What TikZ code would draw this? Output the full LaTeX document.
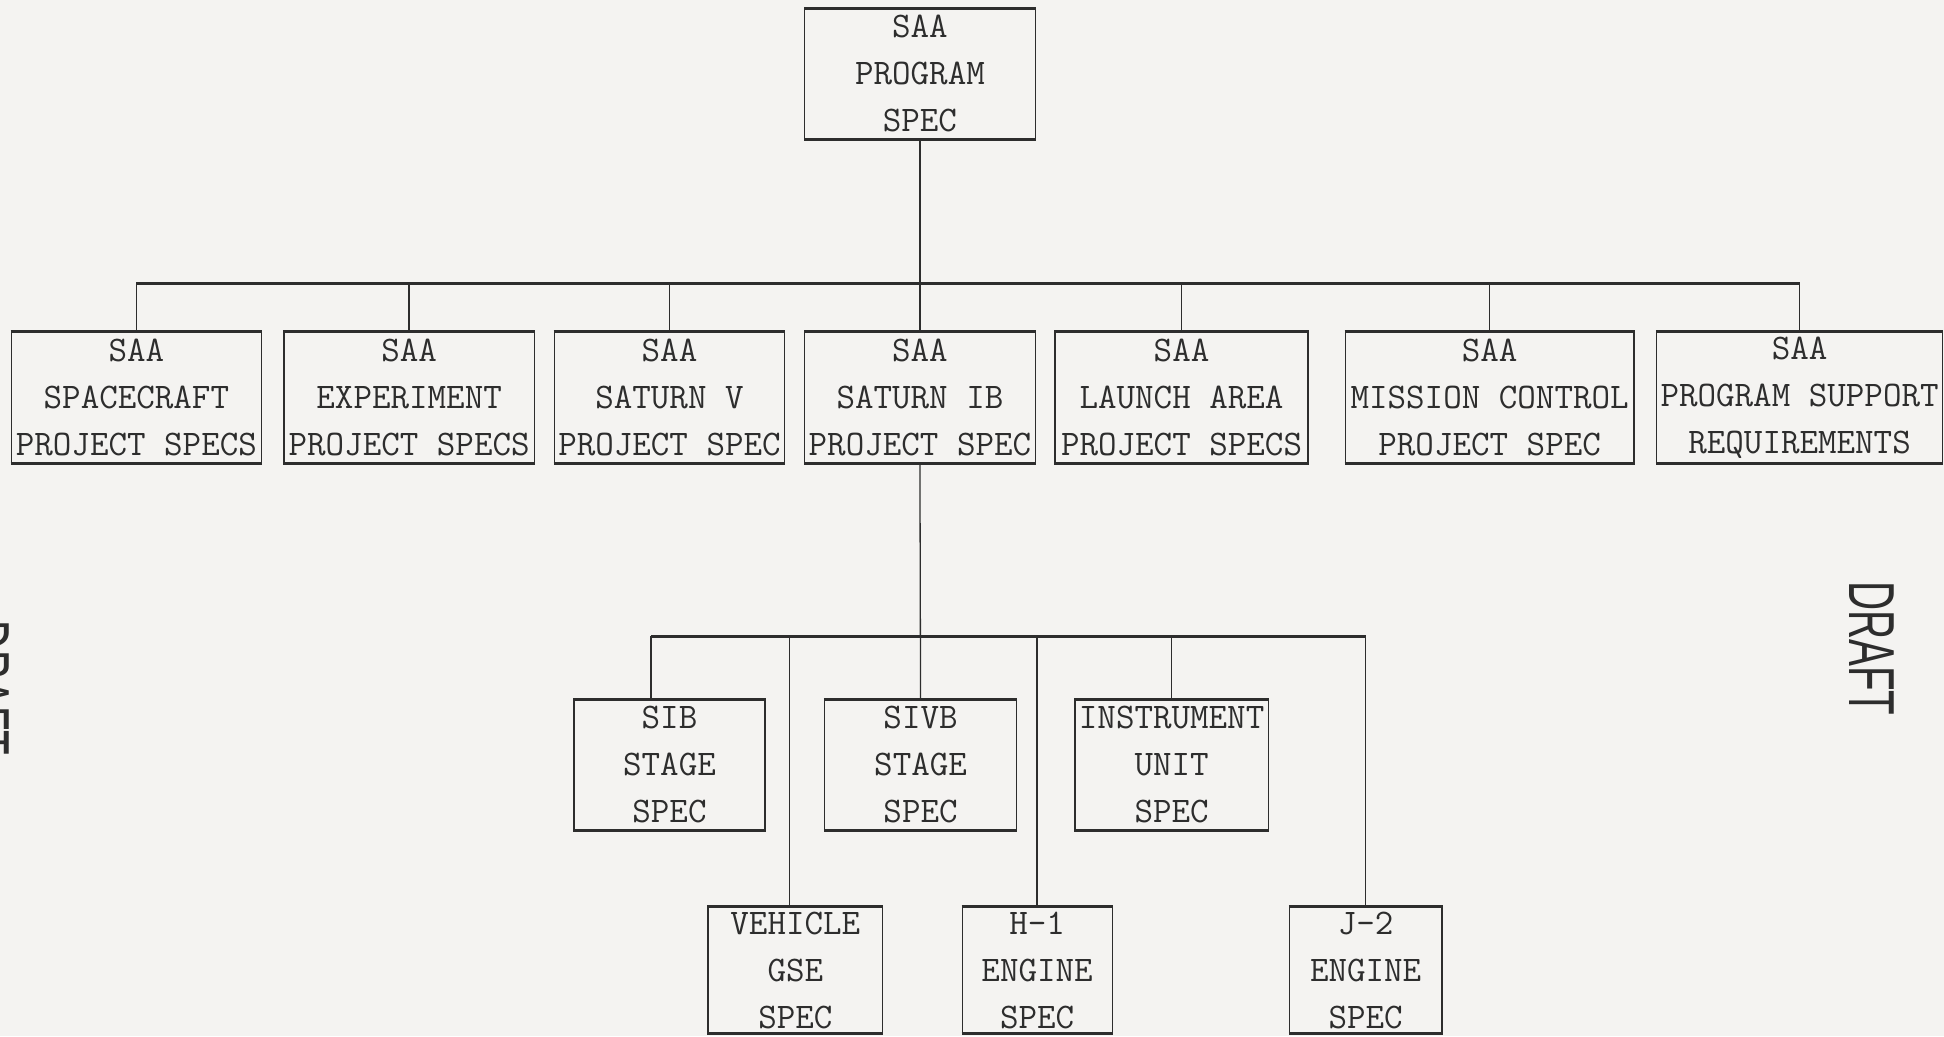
\documentclass[tikz,border=0pt]{standalone}
\usepackage{fontspec}
\newfontfamily\draftfont{Liberation Sans}
\definecolor{paper}{RGB}{244,243,241}
\definecolor{ink}{RGB}{45,45,45}
\begin{document}
\begin{tikzpicture}[x=1.2398pt,y=-1.2398pt,
  box/.style={draw=ink, line width=1.2pt, inner sep=0pt, align=center, text=ink,
    font=\ttfamily\fontsize{36}{47}\selectfont},
  rowtwo/.style={box, minimum height=130.2pt},
  rowthree/.style={box, minimum height=128.9pt},
  rowfour/.style={box, minimum height=125.2pt},
  conn/.style={draw=ink, line width=1.3pt},
  barline/.style={draw=ink, line width=3pt},
  edge/.style={draw=ink, line width=3pt},
  drafttext/.style={rotate=-90, text=ink, inner sep=0pt}]
\fill[paper] (0,0) rectangle (1568,836);
\path[use as bounding box] (0,0) rectangle (1568,836);
\clip (0,0) rectangle (1568,836);

% level 0
\node[rowtwo, minimum width=230.6pt] (top) at (742,59.5) {SAA\\PROGRAM\\SPEC};

% level 1
\node[rowtwo, minimum width=250.4pt] (b1) at (110,320.5) {SAA\\SPACECRAFT\\PROJECT SPECS};
\node[rowtwo, minimum width=250.4pt] (b2) at (330,320.5) {SAA\\EXPERIMENT\\PROJECT SPECS};
\node[rowtwo, minimum width=230.6pt] (b3) at (540,320.5) {SAA\\SATURN V\\PROJECT SPEC};
\node[rowtwo, minimum width=230.6pt] (b4) at (742,320.5) {SAA\\SATURN IB\\PROJECT SPEC};
\node[rowtwo, minimum width=252.9pt] (b5) at (953,320.5) {SAA\\LAUNCH AREA\\PROJECT SPECS};
\node[rowtwo, minimum width=288.9pt] (b6) at (1201.5,320.5) {SAA\\MISSION CONTROL\\PROJECT SPEC};
\node[rowtwo, minimum width=286.4pt] (b7) at (1451.5,320.5) {SAA\\PROGRAM SUPPORT\\REQUIREMENTS};

% level 2
\node[rowthree, minimum width=190.9pt] (s1) at (540,617) {SIB\\STAGE\\SPEC};
\node[rowthree, minimum width=192.2pt] (s2) at (742.5,617) {SIVB\\STAGE\\SPEC};
\node[rowthree, minimum width=193.4pt] (s3) at (945,617) {INSTRUMENT\\UNIT\\SPEC};

% level 3
\node[rowfour, minimum width=174.8pt] (v1) at (641.5,782.5) {VEHICLE\\GSE\\SPEC};
\node[rowfour, minimum width=150.0pt] (v2) at (836.5,782.5) {H-1\\ENGINE\\SPEC};
\node[rowfour, minimum width=152.5pt] (v3) at (1101.5,782.5) {J-2\\ENGINE\\SPEC};

% thick typed top and bottom edges
\foreach \n in {top,b1,b2,b3,b4,b5,b6,b7,s1,s2,s3,v1,v2,v3}{
  \draw[edge] (\n.north west) -- (\n.north east);
  \draw[edge] (\n.south west) -- (\n.south east);
}

% first level connectors
\coordinate (lvl1) at (0,229);
\draw[barline] (b1.north |- lvl1) -- (b7.north |- lvl1);
\draw[conn] (top.south) -- (b4.north);
\foreach \n in {b1,b2,b3,b5,b6,b7}{
  \draw[conn] (\n.north |- lvl1) -- (\n.north);
}

% second level connectors
\coordinate (j1) at (525,513);
\coordinate (j2) at (637,513);
\draw[barline] (j1) -- (v3.north |- j1);
\draw[conn] (b4.south) -- (s2.north);
\draw[conn] (j1) -- (j1 |- s1.north);
\draw[conn] (j2) -- (j2 |- v1.north);
\draw[conn] (v2.north |- j1) -- (v2.north);
\draw[conn] (s3.north |- j1) -- (s3.north);
\draw[conn] (v3.north |- j1) -- (v3.north);

% DRAFT stamps
\node[drafttext] (draft1) at (1510,523) {\scalebox{0.62}[1]{\draftfont\fontsize{65}{65}\selectfont DRAFT}};
\node[drafttext] (draft2) at (-11,555) {\scalebox{0.62}[1]{\draftfont\fontsize{65}{65}\selectfont DRAFT}};
\end{tikzpicture}
\end{document}
